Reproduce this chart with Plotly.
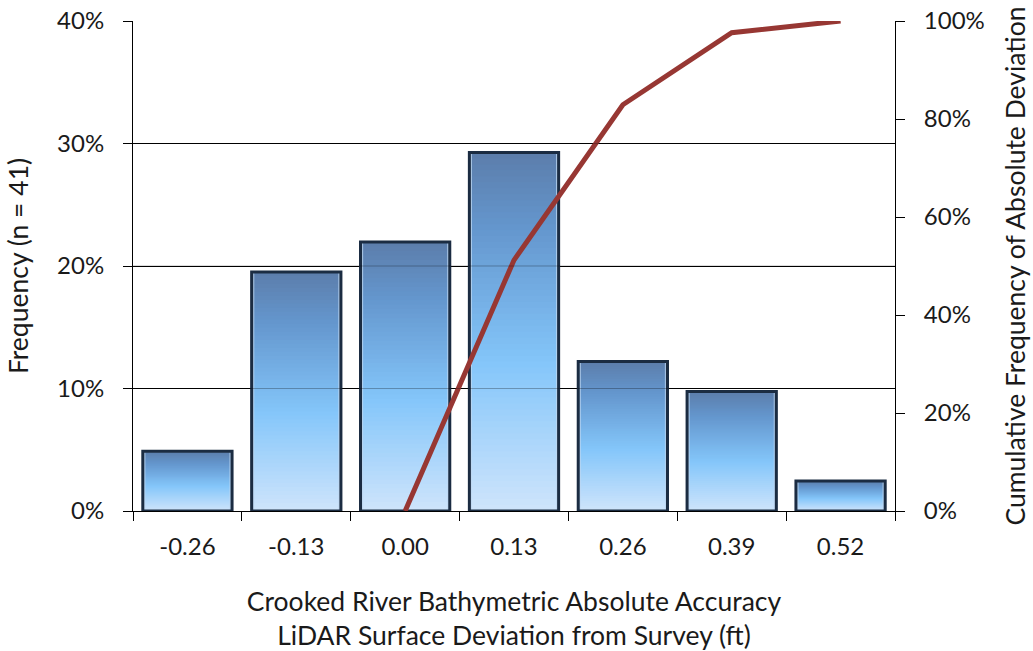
import plotly.graph_objects as go

categories = ["-0.26", "-0.13", "0.00", "0.13", "0.26", "0.39", "0.52"]
frequency = [4.88, 19.51, 21.95, 29.27, 12.20, 9.76, 2.44]          # percent
cumulative = [None, None, 0.0, 51.2, 82.9, 97.6, 100.0]              # percent

FONT = "Lato"
TICK_SIZE = 24
TITLE_SIZE = 26.5
N_LAYERS = 60
# gradient stops from the top of a bar (t=0) to its bottom (t=1)
stops = [(0.0, (92, 126, 172)), (0.2, (100, 150, 205)), (0.58, (132, 198, 250)), (1.0, (208, 229, 251))]


def grad(t):
    for (t0, c0), (t1, c1) in zip(stops[:-1], stops[1:]):
        if t0 <= t <= t1:
            f = (t - t0) / (t1 - t0)
            return "rgb(%d,%d,%d)" % tuple(round(a + (b - a) * f) for a, b in zip(c0, c1))
    return "rgb(%d,%d,%d)" % stops[-1][1]


fig = go.Figure()
for k in range(N_LAYERS):
    frac = (N_LAYERS - k) / N_LAYERS
    fig.add_trace(go.Bar(
        x=categories, y=[v * frac for v in frequency],
        width=0.82, marker=dict(color=grad(k / N_LAYERS), line=dict(width=0)),
        showlegend=False, hoverinfo="skip"))

# light inner rim (bevel)
fig.add_trace(go.Bar(
    x=categories, y=frequency, width=0.79,
    marker=dict(color="rgba(0,0,0,0)", line=dict(color="rgba(190,215,240,0.75)", width=2)),
    showlegend=False, hoverinfo="skip"))

# bar outline
fig.add_trace(go.Bar(
    x=categories, y=frequency, width=0.82,
    marker=dict(color="rgba(0,0,0,0)", line=dict(color="#1b2c42", width=3)),
    showlegend=False, name="Frequency"))

fig.add_trace(go.Scatter(
    x=categories, y=cumulative, yaxis="y2", mode="lines",
    line=dict(color="#973733", width=5), connectgaps=False,
    showlegend=False, name="Cumulative"))

# faint gridlines visible through the bars
shapes = [dict(type="line", xref="paper", x0=0, x1=1, yref="y", y0=g, y1=g,
               line=dict(color="rgba(0,0,0,0.28)", width=1), layer="above")
          for g in [10, 20, 30]]

fig.update_layout(
    width=1033, height=651,
    margin=dict(l=133, r=138, t=21, b=140),
    paper_bgcolor="white", plot_bgcolor="white",
    barmode="overlay", bargap=0.18,
    font=dict(family=FONT, size=TICK_SIZE, color="#1a1a1a"),
    shapes=shapes,
    xaxis=dict(type="category", range=[-0.5, 6.5], tickson="boundaries",
               ticks="outside", ticklen=9, tickcolor="black", tickwidth=1,
               showline=True, linecolor="black", linewidth=1,
               showgrid=False, ticklabelstandoff=14, automargin=False,
               title=dict(text="Crooked River Bathymetric Absolute Accuracy<br>LiDAR Surface Deviation from Survey (ft)",
                          standoff=33, font=dict(size=TITLE_SIZE))),
    yaxis=dict(range=[0, 40], dtick=10, ticksuffix="%",
               ticks="outside", ticklen=9, tickcolor="black",
               showline=True, linecolor="black", linewidth=1,
               showgrid=True, gridcolor="black", gridwidth=1, zeroline=False,
               ticklabelstandoff=14, automargin=False,
               title=dict(text="Frequency (n = 41)", standoff=20, font=dict(size=TITLE_SIZE))),
    yaxis2=dict(range=[0, 100], dtick=20, ticksuffix="%", overlaying="y", side="right",
                ticks="outside", ticklen=9, tickcolor="black",
                showline=True, linecolor="black", linewidth=1,
                showgrid=False, zeroline=False, ticklabelstandoff=14, automargin=False,
                title=dict(text="Cumulative Frequency of Absolute Deviation", standoff=22,
                           font=dict(size=TITLE_SIZE))),
)

fig.write_html("out.html")
